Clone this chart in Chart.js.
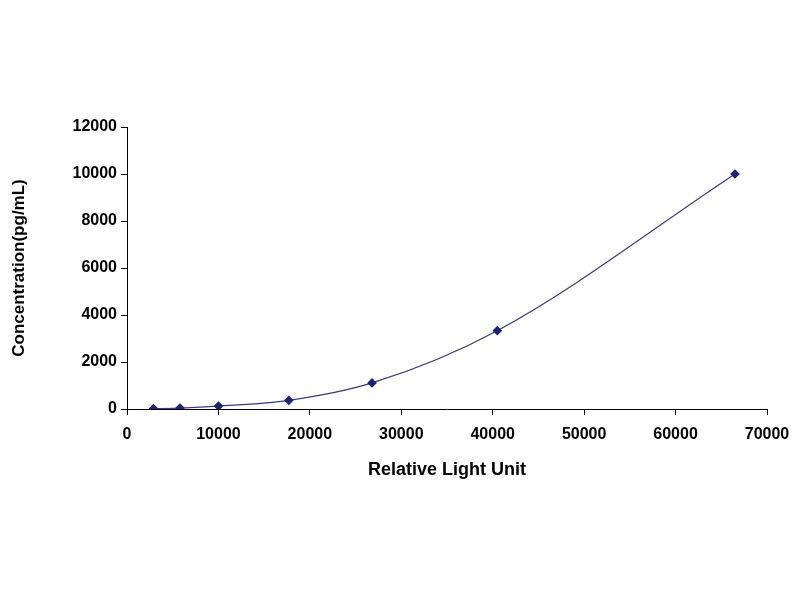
<!DOCTYPE html><html><head><style>html,body{margin:0;background:#fff}</style>
<script src="https://cdn.jsdelivr.net/npm/chart.js@4"></script></head><body>
<div style="width:800px;height:600px"><canvas id="c"></canvas></div>
<script>
const rlu=[2900,5800,10000,17700,26800,40500,66500];
const conc=[13.7,41,123,370,1111,3333,10000];
const xTicks=[0,10000,20000,30000,40000,50000,60000,70000];
const yTicks=[0,2000,4000,6000,8000,10000,12000];
const font={family:'Liberation Sans, Arial',size:16,weight:'bold'};
new Chart(document.getElementById('c'),{type:'scatter',
data:{datasets:[{data:rlu.map((x,i)=>({x,y:conc[i]})),showLine:true,cubicInterpolationMode:'monotone',
borderColor:'#3a3a8c',borderWidth:1.2,backgroundColor:'#1a237e',pointBorderColor:'#1a237e',pointStyle:'rectRot',pointRadius:4}]},
options:{responsive:true,maintainAspectRatio:false,animation:false,
layout:{padding:{top:127,right:33,bottom:115,left:5}},
plugins:{legend:{display:false},tooltip:{enabled:false}},
scales:{
x:{type:'linear',min:0,max:70000,afterBuildTicks:a=>{a.ticks=xTicks.map(v=>({value:v}))},
 afterFit:a=>{a.height=76},
 grid:{display:true,drawOnChartArea:false,drawTicks:true,tickLength:6,color:'#000'},border:{color:'#000'},
 ticks:{color:'#000',font,maxRotation:0,padding:10,callback:v=>String(v)},
 title:{display:true,text:'Relative Light Unit',color:'#000',font:{...font,size:18}}},
y:{min:0,max:12000,afterBuildTicks:a=>{a.ticks=yTicks.map(v=>({value:v}))},
 afterFit:a=>{a.width=122},
 grid:{display:true,drawOnChartArea:false,drawTicks:true,tickLength:6,color:'#000'},border:{color:'#000'},
 ticks:{color:'#000',font,padding:4,callback:v=>String(v)},
 title:{display:true,text:'Concentration(pg/mL)',color:'#000',font:{...font,size:17}}}}}});
</script></body></html>
